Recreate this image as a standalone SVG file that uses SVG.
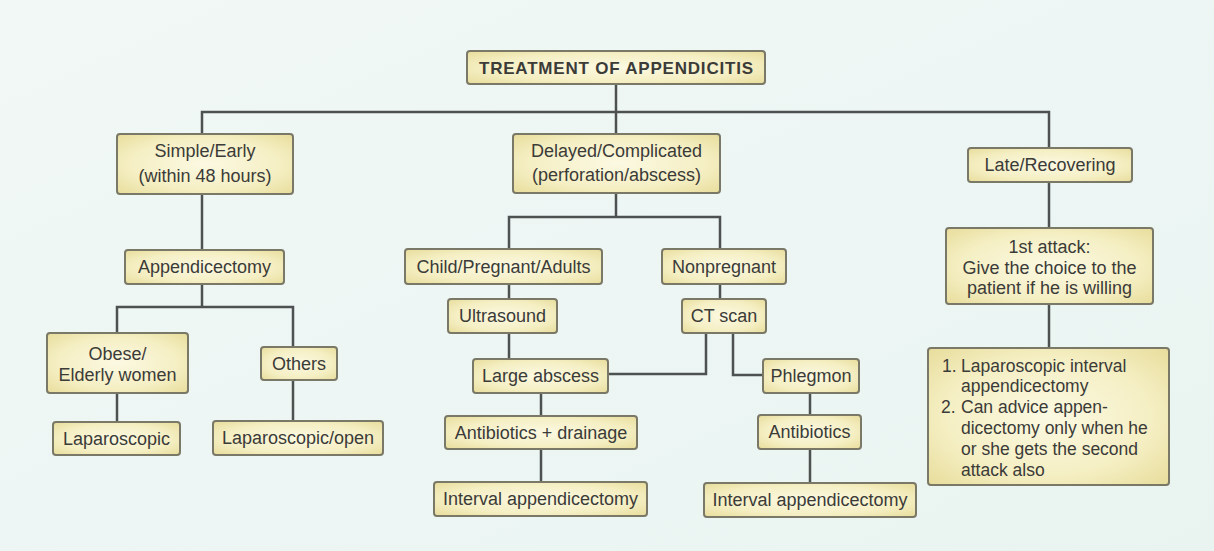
<svg xmlns="http://www.w3.org/2000/svg" width="1214" height="551" viewBox="0 0 1214 551">
<defs>
<radialGradient id="boxfill" cx="50%" cy="50%" r="70%">
<stop offset="0" stop-color="#fbf9e2"/>
<stop offset="0.6" stop-color="#f5efc4"/>
<stop offset="1" stop-color="#e8dd9c"/>
</radialGradient>
<linearGradient id="bg" x1="0" y1="0" x2="1" y2="1">
<stop offset="0" stop-color="#f1f8f6"/>
<stop offset="1" stop-color="#e9f4f1"/>
</linearGradient>
</defs>
<style>
.box{fill:url(#boxfill);stroke:#7a7866;stroke-width:2}
.t{font-family:"Liberation Sans",Arial,sans-serif;font-size:18px;fill:#3b3b38;text-anchor:middle}
.tl{font-family:"Liberation Sans",Arial,sans-serif;font-size:17.5px;fill:#3b3b38}
.title{font-family:"Liberation Sans",Arial,sans-serif;font-size:17px;font-weight:bold;fill:#3b3b38;text-anchor:middle}
.c{fill:none;stroke:#4d5150;stroke-width:2.5}
</style>
<rect x="0" y="0" width="1214" height="551" fill="url(#bg)"/>
<g id="connectors">
<path class="c" d="M616,84 V134"/>
<path class="c" d="M202,134 V112 H1049 V148"/>
<path class="c" d="M202,194 V250"/>
<path class="c" d="M202,284 V307"/>
<path class="c" d="M117,333 V307 H293 V347"/>
<path class="c" d="M117,393 V422"/>
<path class="c" d="M293,380 V421"/>
<path class="c" d="M616,193 V217"/>
<path class="c" d="M509,249 V217 H720 V249"/>
<path class="c" d="M509,284 V299"/>
<path class="c" d="M720,284 V299"/>
<path class="c" d="M509,333 V359"/>
<path class="c" d="M706,333 V374 H608"/>
<path class="c" d="M733,333 V375 H763"/>
<path class="c" d="M541,393 V416"/>
<path class="c" d="M541,449 V482"/>
<path class="c" d="M810,393 V415"/>
<path class="c" d="M810,449 V483"/>
<path class="c" d="M1049,182 V228"/>
<path class="c" d="M1049,304 V348"/>
</g>
<g id="title">
<rect class="box" x="467" y="51" width="298" height="33" rx="3"/>
<text class="title" x="616" y="74" textLength="274" lengthAdjust="spacing">TREATMENT OF APPENDICITIS</text>
</g>
<g id="simple">
<rect class="box" x="117" y="134" width="176" height="60" rx="3"/>
<text class="t" x="205" y="157">Simple/Early</text>
<text class="t" x="205" y="182">(within 48 hours)</text>
</g>
<g id="appendicectomy">
<rect class="box" x="125" y="250" width="159" height="34" rx="3"/>
<text class="t" x="204.5" y="273">Appendicectomy</text>
</g>
<g id="obese">
<rect class="box" x="47" y="333" width="141" height="60" rx="3"/>
<text class="t" x="117.5" y="360">Obese/</text>
<text class="t" x="117.5" y="381">Elderly women</text>
</g>
<g id="others">
<rect class="box" x="261" y="347" width="76" height="33" rx="3"/>
<text class="t" x="299" y="370">Others</text>
</g>
<g id="laparoscopic">
<rect class="box" x="53" y="422" width="127" height="33" rx="3"/>
<text class="t" x="116.5" y="445">Laparoscopic</text>
</g>
<g id="lapopen">
<rect class="box" x="213" y="421" width="170" height="34" rx="3"/>
<text class="t" x="298" y="444">Laparoscopic/open</text>
</g>
<g id="delayed">
<rect class="box" x="513" y="134" width="207" height="59" rx="3"/>
<text class="t" x="616.5" y="157">Delayed/Complicated</text>
<text class="t" x="616.5" y="181">(perforation/abscess)</text>
</g>
<g id="child">
<rect class="box" x="405" y="249" width="197" height="35" rx="3"/>
<text class="t" x="503.5" y="273">Child/Pregnant/Adults</text>
</g>
<g id="nonpregnant">
<rect class="box" x="662" y="249" width="124" height="35" rx="3"/>
<text class="t" x="724" y="273">Nonpregnant</text>
</g>
<g id="ultrasound">
<rect class="box" x="448" y="299" width="109" height="34" rx="3"/>
<text class="t" x="502.5" y="322">Ultrasound</text>
</g>
<g id="ctscan">
<rect class="box" x="682" y="299" width="84" height="34" rx="3"/>
<text class="t" x="724" y="322">CT scan</text>
</g>
<g id="largeabscess">
<rect class="box" x="473" y="359" width="135" height="34" rx="3"/>
<text class="t" x="540.5" y="382">Large abscess</text>
</g>
<g id="phlegmon">
<rect class="box" x="763" y="359" width="96" height="34" rx="3"/>
<text class="t" x="811" y="382">Phlegmon</text>
</g>
<g id="abxdrainage">
<rect class="box" x="445" y="416" width="192" height="33" rx="3"/>
<text class="t" x="541" y="439">Antibiotics + drainage</text>
</g>
<g id="antibiotics">
<rect class="box" x="758" y="415" width="103" height="34" rx="3"/>
<text class="t" x="809.5" y="438">Antibiotics</text>
</g>
<g id="interval1">
<rect class="box" x="434" y="482" width="213" height="34" rx="3"/>
<text class="t" x="540.5" y="505">Interval appendicectomy</text>
</g>
<g id="interval2">
<rect class="box" x="704" y="483" width="212" height="34" rx="3"/>
<text class="t" x="810" y="506">Interval appendicectomy</text>
</g>
<g id="late">
<rect class="box" x="968" y="148" width="164" height="34" rx="3"/>
<text class="t" x="1050" y="171">Late/Recovering</text>
</g>
<g id="firstattack">
<rect class="box" x="946" y="228" width="207" height="76" rx="3"/>
<text class="t" x="1049.5" y="253">1st attack:</text>
<text class="t" x="1049.5" y="274">Give the choice to the</text>
<text class="t" x="1049.5" y="294">patient if he is willing</text>
</g>
<g id="options">
<rect class="box" x="928" y="348" width="241" height="137" rx="3"/>
<text class="tl" x="942" y="372">1.</text>
<text class="tl" x="961" y="372">Laparoscopic interval</text>
<text class="tl" x="961" y="392">appendicectomy</text>
<text class="tl" x="941" y="413">2.</text>
<text class="tl" x="961" y="413">Can advice appen-</text>
<text class="tl" x="961" y="434">dicectomy only when he</text>
<text class="tl" x="961" y="455">or she gets the second</text>
<text class="tl" x="961" y="476">attack also</text>
</g>
</svg>
